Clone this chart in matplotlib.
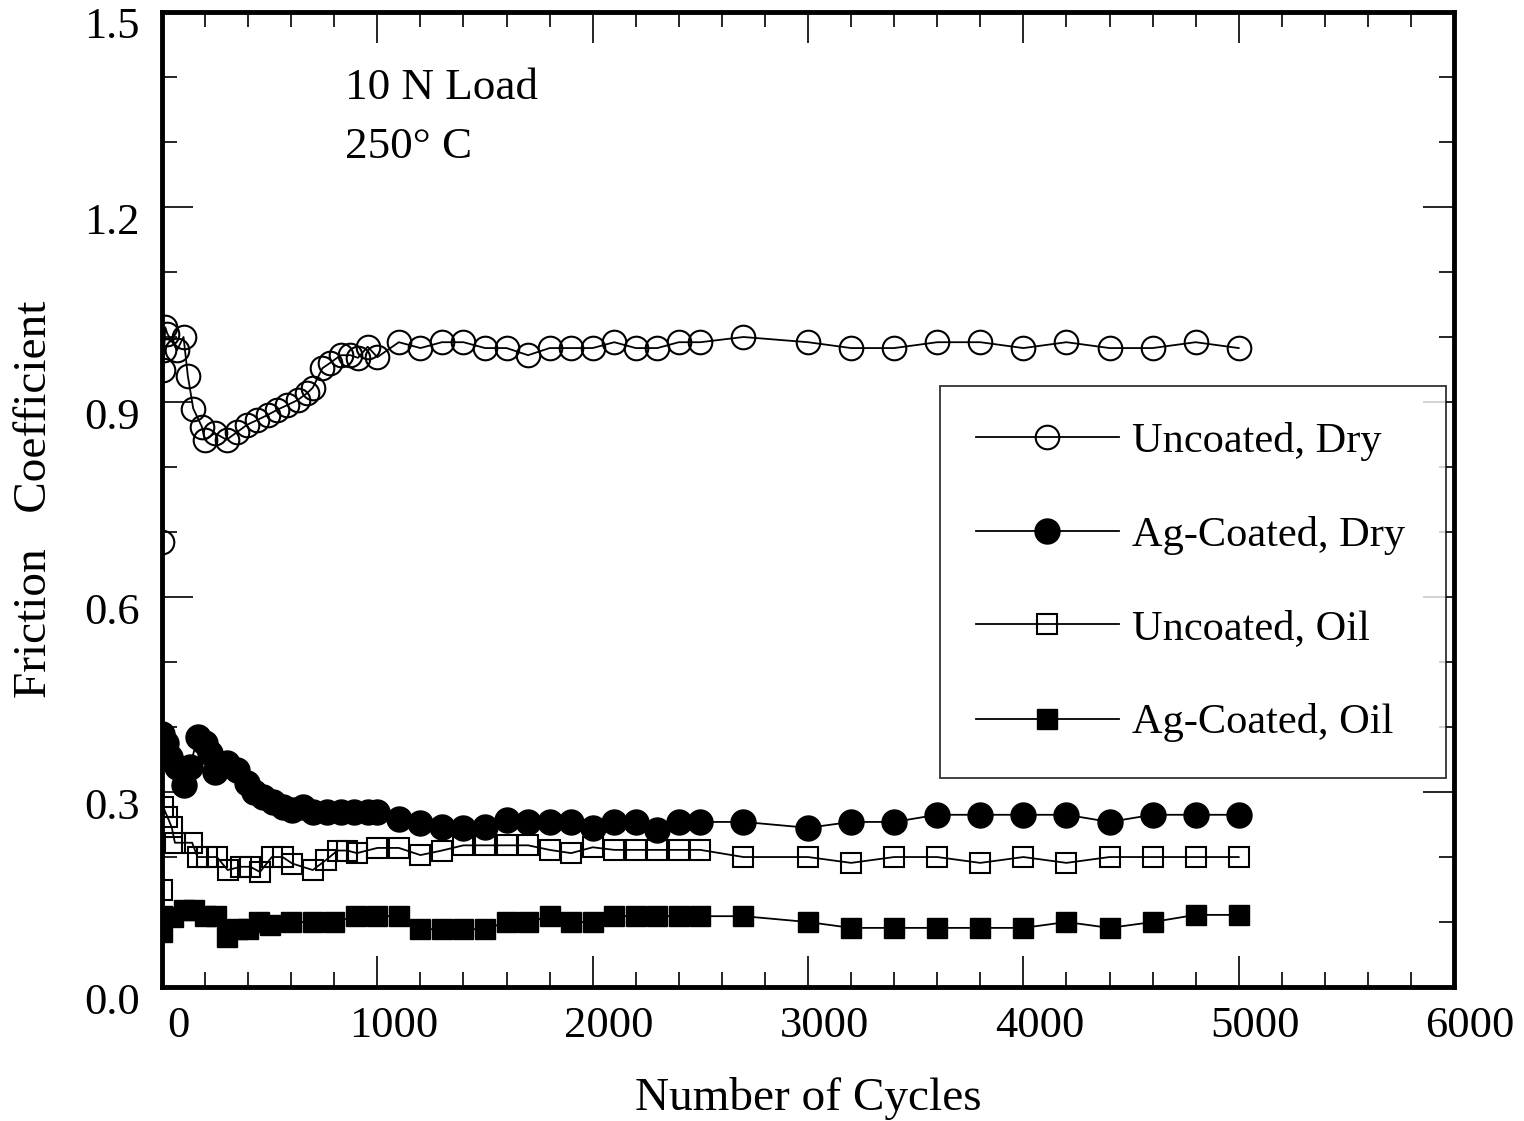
import matplotlib
matplotlib.use("Agg")
import matplotlib.pyplot as plt
from matplotlib.ticker import MultipleLocator
from matplotlib.lines import Line2D
import matplotlib.transforms as mtransforms

plt.rcParams['font.family'] = ['Liberation Serif', 'DejaVu Serif']

# Uncoated, Dry (open circles)
ud_x = [0, 5, 10, 15, 25, 70, 100, 120, 145, 185, 200, 245, 300, 350, 395, 440,
        490, 535, 580, 630, 675, 700, 745, 780, 830, 875, 910, 955, 1000,
        1100, 1200, 1300, 1400, 1500, 1600, 1700, 1800, 1900, 2000, 2100, 2200,
        2300, 2400, 2500, 2700, 3000, 3200, 3400, 3600, 3800, 4000, 4200, 4400,
        4600, 4800, 5000]
ud_y = [0.685, 0.95, 0.98, 1.015, 1.005, 0.98, 1.0, 0.94, 0.89, 0.862, 0.842,
        0.852, 0.842, 0.854, 0.865, 0.872, 0.88, 0.888, 0.895, 0.903, 0.914,
        0.922, 0.952, 0.96, 0.972, 0.972, 0.968, 0.985, 0.969,
        0.992, 0.983, 0.992, 0.992, 0.983, 0.983, 0.972, 0.983, 0.983, 0.983,
        0.992, 0.983, 0.983, 0.992, 0.992, 1.0, 0.992, 0.983, 0.983, 0.992,
        0.992, 0.983, 0.992, 0.983, 0.983, 0.992, 0.983]

# Ag-Coated, Dry (filled circles)
ad_x = [0, 20, 35, 70, 100, 130, 165, 200, 225, 245, 300, 350, 395, 425, 470,
        515, 560, 605, 655, 700, 765, 830, 890, 955, 1000, 1100, 1200, 1300,
        1400, 1500, 1600, 1700, 1800, 1900, 2000, 2100, 2200, 2300, 2400, 2500,
        2700, 3000, 3200, 3400, 3600, 3800, 4000, 4200, 4400, 4600, 4800, 5000]
ad_y = [0.39, 0.375, 0.354, 0.338, 0.311, 0.338, 0.385, 0.375, 0.36, 0.331,
        0.345, 0.334, 0.314, 0.30, 0.292, 0.285, 0.277, 0.272, 0.277, 0.269,
        0.269, 0.269, 0.269, 0.269, 0.269, 0.258, 0.252, 0.246, 0.245, 0.246,
        0.257, 0.254, 0.254, 0.254, 0.245, 0.254, 0.254, 0.242, 0.254, 0.254,
        0.254, 0.245, 0.254, 0.254, 0.265, 0.265, 0.265, 0.265, 0.254, 0.265,
        0.265, 0.265]

# Uncoated, Oil (open squares)
uo_x = [0, 5, 25, 45, 60, 140, 165, 210, 255, 305, 365, 410, 455, 510, 560,
        605, 700, 760, 815, 860, 905, 1000, 1100, 1200, 1300, 1400, 1500, 1600,
        1700, 1800, 1900, 2000, 2100, 2200, 2300, 2400, 2500, 2700, 3000, 3200,
        3400, 3600, 3800, 4000, 4200, 4400, 4600, 4800, 5000]
uo_y = [0.149, 0.277, 0.262, 0.246, 0.222, 0.222, 0.2, 0.2, 0.2, 0.18, 0.185,
        0.185, 0.177, 0.2, 0.2, 0.19, 0.18, 0.195, 0.21, 0.21, 0.206, 0.214,
        0.214, 0.203, 0.21, 0.218, 0.218, 0.218, 0.218, 0.211, 0.206, 0.215,
        0.211, 0.211, 0.211, 0.211, 0.211, 0.2, 0.2, 0.191, 0.2, 0.2, 0.191,
        0.2, 0.191, 0.2, 0.2, 0.2, 0.2]

# Ag-Coated, Oil (filled squares)
ao_x = [0, 0, 50, 100, 150, 200, 250, 300, 350, 400, 450, 500, 600, 700, 800,
        900, 1000, 1100, 1200, 1300, 1400, 1500, 1600, 1700, 1800, 1900, 2000,
        2100, 2200, 2300, 2400, 2500, 2700, 3000, 3200, 3400, 3600, 3800, 4000,
        4200, 4400, 4600, 4800, 5000]
ao_y = [0.085, 0.11, 0.108, 0.118, 0.118, 0.109, 0.109, 0.077, 0.089, 0.089,
        0.1, 0.095, 0.1, 0.1, 0.1, 0.109, 0.109, 0.109, 0.089, 0.089, 0.089,
        0.089, 0.1, 0.1, 0.109, 0.1, 0.1, 0.109, 0.109, 0.109, 0.109, 0.109,
        0.109, 0.1, 0.091, 0.091, 0.091, 0.091, 0.091, 0.1, 0.091, 0.1, 0.111,
        0.111]

labels = ['Uncoated, Dry', 'Ag-Coated, Dry', 'Uncoated, Oil', 'Ag-Coated, Oil']

fig = plt.figure(figsize=(15.24, 11.21), dpi=100)
ax = fig.add_axes([0.1063, 0.1195, 0.8478, 0.8698])

lw = 1.3
ax.plot(uo_x, uo_y, 'k-', lw=lw, marker='s', ms=14.5, mfc='none', mec='k', mew=1.5)
ax.plot(ao_x, ao_y, 'k-', lw=lw, marker='s', ms=15, mfc='k', mec='k')
ax.plot(ud_x, ud_y, 'k-', lw=lw, marker='o', ms=17, mfc='none', mec='k', mew=1.5)
ax.plot(ad_x, ad_y, 'k-', lw=lw, marker='o', ms=18, mfc='k', mec='k')

ax.set_xlim(0, 6000)
ax.set_ylim(0, 1.5)
ax.xaxis.set_major_locator(MultipleLocator(1000))
ax.xaxis.set_minor_locator(MultipleLocator(200))
ax.yaxis.set_major_locator(MultipleLocator(0.3))
ax.yaxis.set_minor_locator(MultipleLocator(0.1))
ax.set_yticklabels([f'{v:.1f}' for v in ax.get_yticks()])

ax.tick_params(which='both', direction='in', top=True, right=True,
               labelsize=32, width=1.2, colors='k')
ax.tick_params(which='major', length=22)
ax.tick_params(which='minor', length=11)
ax.tick_params(axis='x', which='major', pad=14)
ax.tick_params(axis='y', which='major', pad=16)
for s in ax.spines.values():
    s.set_linewidth(3.5)

# shift tick labels like the original print
dx = mtransforms.ScaledTranslation(16 / 100, 0, fig.dpi_scale_trans)
for lab in ax.get_xticklabels():
    lab.set_transform(lab.get_transform() + dx)
dy = mtransforms.ScaledTranslation(0, -11 / 100, fig.dpi_scale_trans)
for lab in ax.get_yticklabels():
    lab.set_transform(lab.get_transform() + dy)

ax.set_xlabel('Number of Cycles', fontsize=34, labelpad=22)
ax.set_ylabel('Friction   Coefficient', fontsize=34, labelpad=20)

ax.text(0.142, 0.922, '10 N Load', transform=ax.transAxes, fontsize=32.5,
        va='center', ha='left')
ax.text(0.142, 0.862, '250\u00b0 C', transform=ax.transAxes, fontsize=32.5,
        va='center', ha='left')

handles = [
    Line2D([], [], color='k', lw=lw, marker='o', ms=17, mfc='none', mec='k', mew=1.5),
    Line2D([], [], color='k', lw=lw, marker='o', ms=18, mfc='k', mec='k'),
    Line2D([], [], color='k', lw=lw, marker='s', ms=14.5, mfc='none', mec='k', mew=1.5),
    Line2D([], [], color='k', lw=lw, marker='s', ms=15, mfc='k', mec='k'),
]
leg = ax.legend(handles, labels, loc='lower left',
                bbox_to_anchor=(0.602, 0.214, 0.392, 0.405), mode='expand',
                fontsize=30.5, handlelength=3.38, handletextpad=0.3,
                labelspacing=1.3, borderpad=0.85, frameon=True, fancybox=False,
                edgecolor='k', borderaxespad=0)
leg.get_frame().set_linewidth(1.3)

fig.savefig('out.png', dpi=100)
